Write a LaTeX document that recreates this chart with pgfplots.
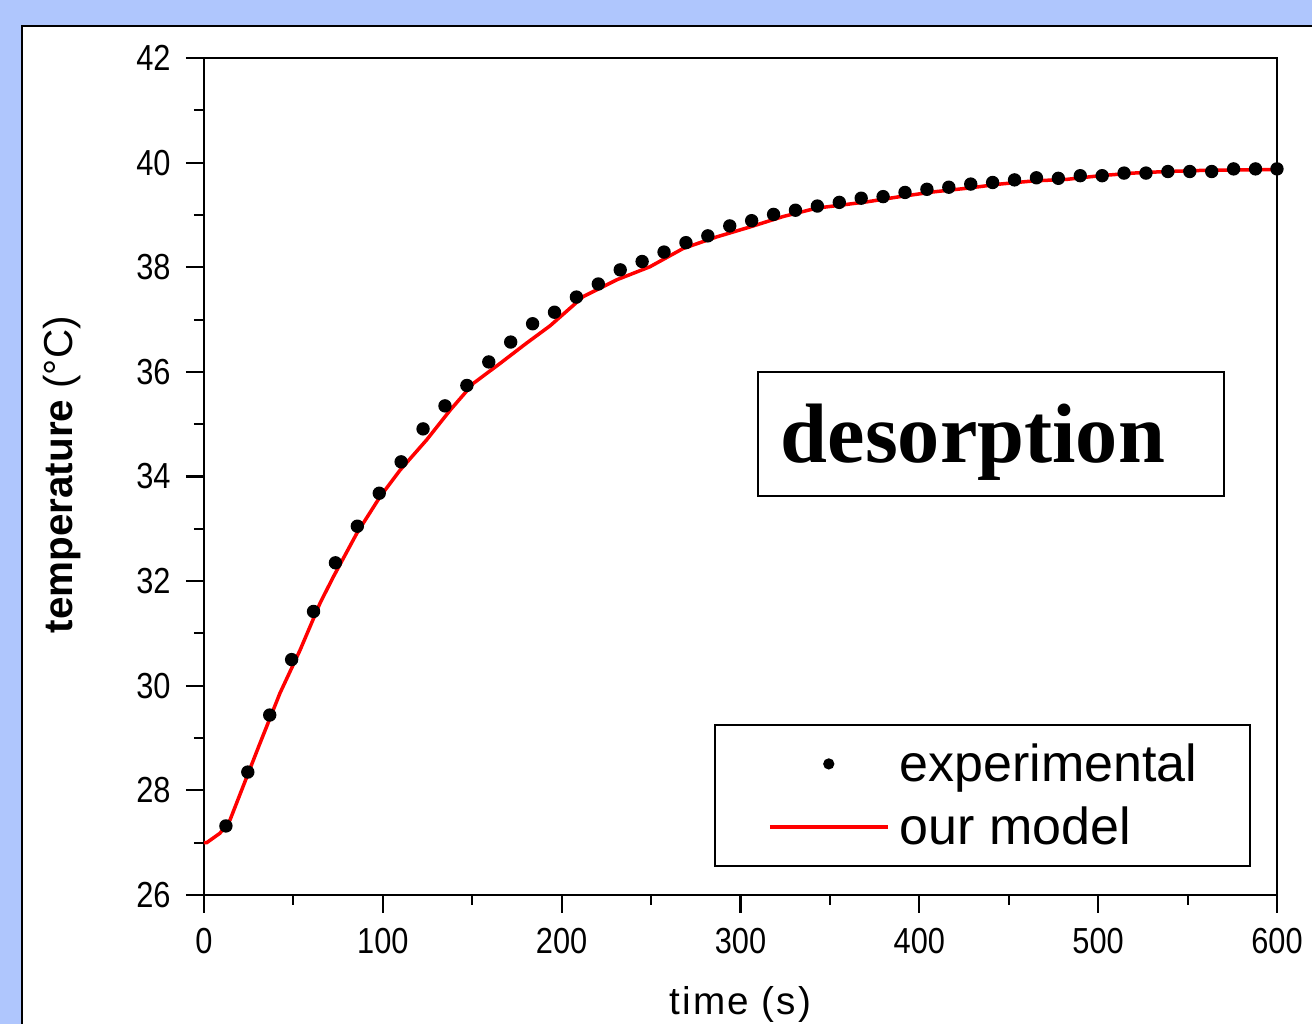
\documentclass[border=0pt]{standalone}
\usepackage{pgfplots}
\pgfplotsset{compat=1.18}
\usepackage{fontspec}
\setmainfont{Liberation Sans}
\newfontfamily\tickfont[FakeStretch=0.85]{Liberation Sans}
\newfontfamily\serifb{Liberation Serif}
\definecolor{bgblue}{HTML}{AFC6FD}
\begin{document}
\begin{tikzpicture}
\useasboundingbox (0,0) rectangle (131.2mm,102.4mm);
\fill[bgblue] (0,0) rectangle (131.2mm,102.4mm);
\fill[white] (2.2mm,0) rectangle (131.2mm,99.8mm);
\draw[line width=0.25mm] (2.2mm,-1mm) -- (2.2mm,99.8mm) -- (132mm,99.8mm);
\begin{axis}[
  at={(20.4mm,12.9mm)}, anchor=south west,
  scale only axis, width=107.3mm, height=83.7mm,
  xmin=0, xmax=600, ymin=26, ymax=42,
  xtick={0,100,...,600}, ytick={26,28,...,42},
  minor x tick num=1, minor y tick num=1,
  tick align=outside, major tick length=1.8mm, minor tick length=1.0mm,
  xtick pos=bottom, ytick pos=left,
  axis line style={line width=0.6pt},
  every tick/.style={black, line width=0.6pt},
  /pgf/number format/assume math mode=true,
  ticklabel style={font=\tickfont\fontsize{10.3}{12}\selectfont},
  yticklabel style={xshift=-0.3mm},
  xticklabel style={yshift=-0.3mm},
  xlabel={t\kern0.6pt i\kern0.6pt m\kern0.6pt e\kern0.6pt\ (\kern0.6pt s\kern0.6pt )},
  ylabel={\textbf{temperature} (°C)},
  xlabel style={at={(axis description cs:0.5,-0.131)}, anchor=center, font=\fontsize{11}{13}\selectfont},
  ylabel style={at={(axis description cs:-0.1323,0.502)}, anchor=center, font=\fontsize{11.5}{13}\selectfont},
  reverse legend,
  legend cell align=left,
  legend style={at={(0.4753,0.0335)}, anchor=south west, draw=black, line width=0.6pt,
    font=\fontsize{14.8}{17}\selectfont, inner xsep=5.3mm, inner ysep=1.6mm,
    nodes={inner sep=0pt, text height=4.1mm, text depth=0.5mm},
    column sep=1.0mm, row sep=1.7mm},
]
\addplot[red, line width=0.35mm, legend image code/.code={\draw[red, line width=0.35mm] (0mm,0mm) -- (11.8mm,0mm);}] coordinates {
(0,27.0) (1.5,27.0) (8.9,27.18) (14.5,27.43) (21.8,28.07) (31.3,28.90) (42.5,29.86)
(53.7,30.68) (64.9,31.58) (72.3,32.08) (85.4,32.91) (98.4,33.61) (109.6,34.12)
(124.5,34.70) (137.7,35.27) (150.6,35.78) (165.5,36.16) (180.4,36.55) (193.5,36.88)
(212.1,37.44) (230.8,37.76) (249.4,38.01) (268,38.36) (286.7,38.58) (305.3,38.77)
(323.9,38.97) (342.6,39.13) (370.6,39.25) (389.2,39.35) (407.8,39.44) (426.5,39.51)
(445.1,39.59) (463.7,39.65) (482.4,39.68) (501,39.75) (519.7,39.80) (538.3,39.83)
(557,39.85) (575.6,39.86) (600,39.87)
};
\addlegendentry{our model}
\addplot[only marks, mark=*, mark size=1.7pt, black, legend image code/.code={\fill[black] (5.9mm,0mm) circle (0.45mm);}] coordinates {
(12.25,27.32) (24.5,28.35) (36.75,29.44) (49,30.50) (61.25,31.42) (73.5,32.35)
(85.75,33.05) (98,33.68) (110.25,34.28) (122.5,34.91) (134.75,35.35) (147,35.74)
(159.25,36.19) (171.5,36.57) (183.75,36.92) (196,37.14) (208.25,37.43) (220.5,37.68)
(232.75,37.95) (245,38.11) (257.25,38.29) (269.5,38.47) (281.75,38.60) (294,38.79)
(306.25,38.89) (318.5,39.01) (330.75,39.09) (343,39.17) (355.25,39.24) (367.5,39.32)
(379.75,39.35) (392,39.43) (404.25,39.49) (416.5,39.53) (428.75,39.59) (441,39.62)
(453.25,39.67) (465.5,39.71) (477.75,39.70) (490,39.75) (502.25,39.75) (514.5,39.80)
(526.75,39.80) (539,39.83) (551.25,39.83) (563.5,39.83) (575.75,39.88) (588,39.88)
(600,39.88)
};
\addlegendentry{experimental}
\end{axis}
\draw[line width=0.6pt] (75.8mm,52.8mm) rectangle (122.4mm,65.2mm);
\node[anchor=base west, inner sep=0pt, font=\serifb\bfseries\fontsize{24}{28}\selectfont] at (78mm,56.1mm) {desorption};
\end{tikzpicture}
\end{document}
